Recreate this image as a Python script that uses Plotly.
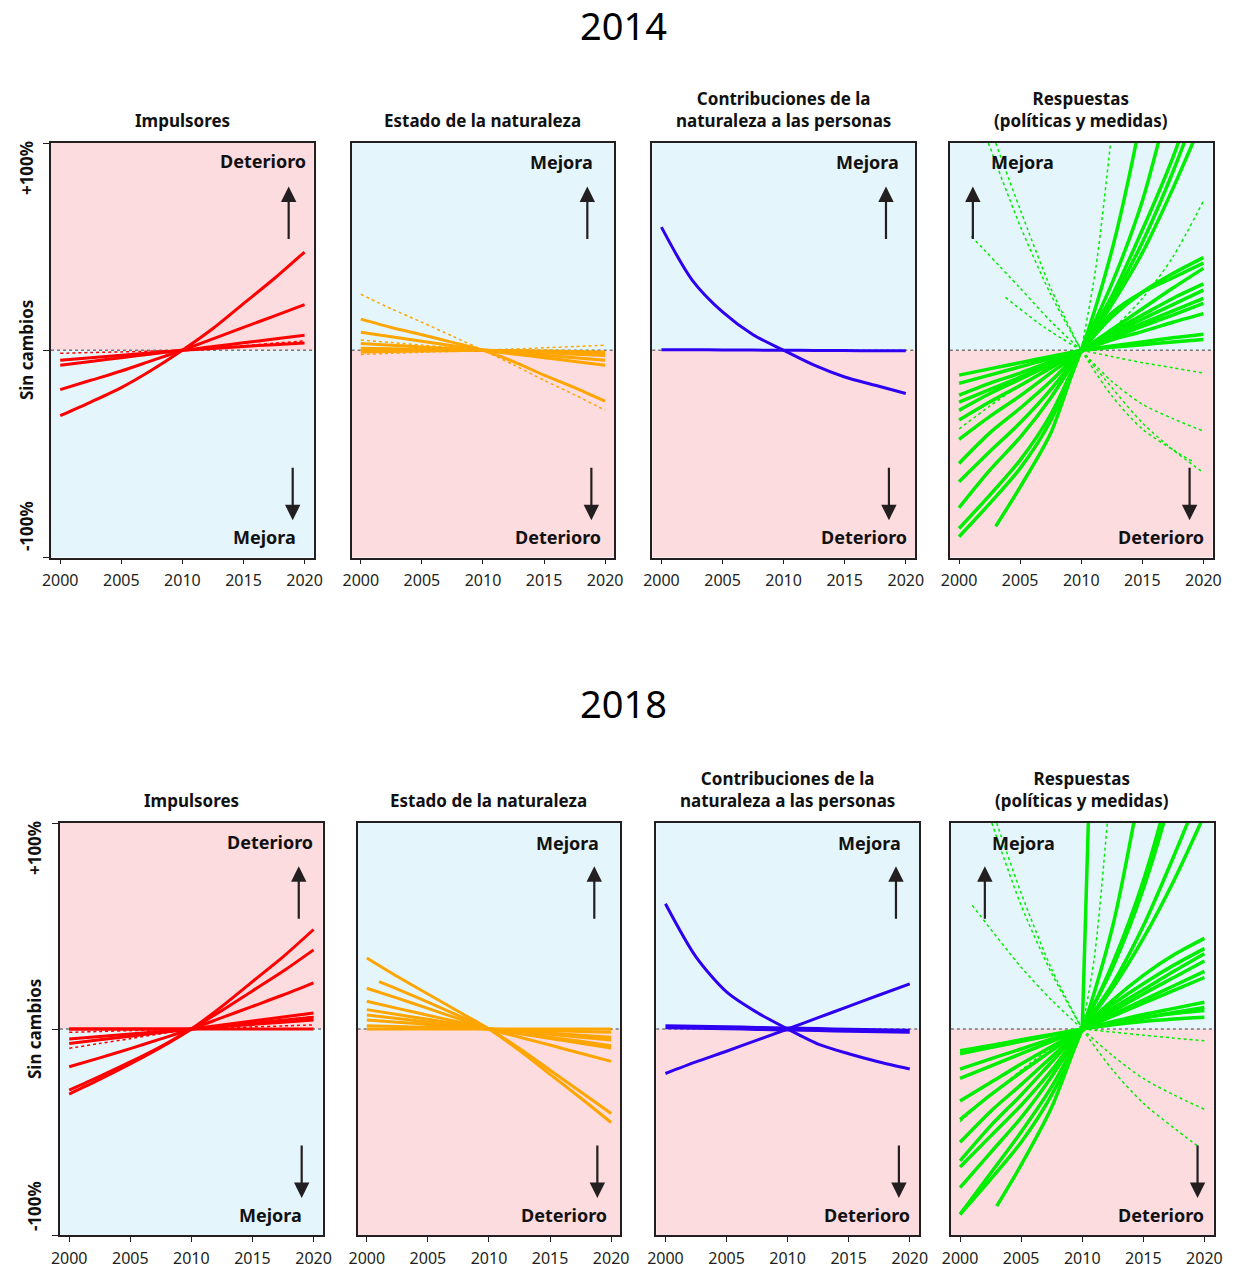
import plotly.graph_objects as go

W, H = 1236, 1269
# the rendered page is drawn with a small horizontal shrink/offset; compensate
SX, OX = 0.9867, 7.9
FONT = "Noto Sans"
INK = "#231F20"

# ---------------- data ----------------
YEARS = [2000, 2002.5, 2005, 2007.5, 2010, 2012.5, 2015, 2017.5, 2020]
X_TICKS = [2000, 2005, 2010, 2015, 2020]
X_TICK_LABELS = ["2000", "2005", "2010", "2015", "2020"]
YEAR_TITLES = ["2014", "2018"]
PANEL_TITLES = ["Impulsores", "Estado de la naturaleza",
                "Contribuciones de la<br>naturaleza a las personas",
                "Respuestas<br>(políticas y medidas)"]
Y_LABELS = ["+100%", "Sin cambios", "-100%"]
N = None

# 2014 - Impulsores
IMP14_SOLID = [
    [-31.6, -25, -18, -9.5, 0, 10.5, 22.5, 34.5, 47.4],
    [-19, -14.5, -10, -5, 0, 5.5, 11, 16.5, 22],
    [-4.8, -3.6, -2.4, -1.2, 0, 1.8, 3.6, 5.4, 7.2],
    [-7.2, -5.4, -3.6, -1.8, 0, 0.9, 1.8, 2.7, 3.5],
]
IMP14_DOT = [
    [-1.5, -1.1, -0.8, -0.4, 0, 1.1, 2.2, 3.4, 4.5],
]
# 2014 - Estado de la naturaleza
EST14_SOLID = [
    [15, 11, 7.5, 3.8, 0, -5.5, -12, -18, -24.6],
    [8.7, 6.5, 4.3, 2.2, 0, -1.8, -3.6, -5.4, -7.2],
    [3.2, 2.4, 1.6, 0.8, 0, -1.2, -2.4, -3.6, -4.8],
    [1.0, 0.75, 0.5, 0.25, 0, -0.6, -1.2, -1.9, -2.5],
    [0.3, 0.2, 0.1, 0.05, 0, -0.4, -0.8, -1.2, -1.6],
    [-0.8, -0.6, -0.4, -0.2, 0, -0.2, -0.4, -0.6, -0.8],
]
EST14_DOT = [
    [27, 20, 13.5, 6.8, 0, -7, -14.5, -21.5, -29],
    [5, 3.7, 2.5, 1.2, 0, -0.5, -1, -1.5, -2],
    [-2, -1.5, -1, -0.5, 0, 0.6, 1.2, 1.8, 2.4],
]
# 2014 - Contribuciones
CON14_SOLID = [
    [59.4, 34, 18.5, 7.5, 0, -7.2, -12.9, -16.9, -20.9],
    [0.3, 0.22, 0.15, 0.07, 0, -0.07, -0.15, -0.22, -0.3],
]
# 2014 - Respuestas
RES14_SOLID = [
    [-90, -74, -57, -34, 0, 48, 115, 200, 300],
    [-86, -70, -53, -31, 0, 32, 72, 128, 190],
    [-76, -58, -42, -23, 0, 24, 52, 86, 125],
    [-63.5, -49, -35, -19, 0, 22, 47, 78, 112],
    [-54.6, -40, -28, -15, 0, 16, 28, 37, 44.7],
    [-43, -32, -22, -11, 0, 18, 28, 35, 42],
    [-33.7, -25, -17, -8.5, 0, 10, 20, 30, 39.5],
    [-29, -21, -14, -7, 0, 9, 17, 25, 32],
    [-25, -19, -13, -6.5, 0, 8, 15, 22, 29],
    [-21.7, -16, -11, -5.5, 0, 7, 13, 19, 25],
    [-16, -12, -8, -4, 0, 6, 11.5, 17, 22.6],
    [-12, -9, -6, -3, 0, 5, 9, 13.5, 17.7],
    [N, N, N, N, 0, 2, 4, 6, 7.7],
    [N, N, N, N, 0, 1.4, 2.7, 4, 5.2],
]
RES14_LATE_YEARS = [2003, 2005, 2007.5, 2010, 2012.5, 2015, 2017.5, 2020]
RES14_LATE_VALUES = [-85, -66, -40, 0, 26, 58, 93, 135]
RES14_DOT_YEARS = [
    [2002.4, 2005, 2007.5, 2010],
    [2003, 2005, 2007.5, 2010],
    [2001, 2005, 2007.5, 2010],
    [2003.8, 2007, 2010],
    [2010, 2011.2, 2012.4],
    [2010, 2012.5, 2015, 2017.5, 2020],
    [2010, 2012.5, 2015, 2017.5, 2020],
    [2010, 2012.5, 2015, 2017.5, 2020],
    [2010, 2012.5, 2015, 2017.5, 2019.2],
    [2010, 2012.5, 2015, 2017.5, 2020],
    [2000, 2002.5, 2005, 2007.5, 2010],
]
RES14_DOT_VALUES = [
    [100, 60, 27, 0],
    [100, 68, 30, 0],
    [55, 30, 14, 0],
    [25.5, 11, 0],
    [0, 40, 100],
    [0, 10, 25, 45, 72],
    [0, -3, -6, -8.5, -11],
    [0, -15, -26, -33, -39],
    [0, -22, -38, -48, -54],
    [0, -18, -35, -48, -59],
    [-38, -27, -17, -8, 0],
]

# 2018 - Impulsores
IMP18_SOLID = [
    [-31.6, -24.5, -17, -9, 0, 11, 23, 35, 48.3],
    [-29.7, -23, -16, -8.5, 0, 9, 18.5, 28, 38.4],
    [-18.3, -14, -9.5, -4.8, 0, 5.5, 11, 16.5, 22.4],
    [-7, -5.2, -3.5, -1.7, 0, 2, 3.9, 5.8, 7.8],
    [-4.9, -3.7, -2.4, -1.2, 0, 1.4, 2.8, 4.2, 5.7],
    [0, 0, 0, 0, 0, 1.1, 2.2, 3.3, 4.4],
    [0, 0, 0, 0, 0, 0, 0, 0, 0],
]
IMP18_DOT = [
    [-1.6, -1.2, -0.8, -0.4, 0, 0.5, 1, 1.5, 2],
    [-9.4, -7, -4.7, -2.3, 0, 1.5, 3, 4.5, 6],
]
# 2018 - Estado de la naturaleza
EST18_SOLID = [
    [34.5, 25.5, 17, 8.5, 0, -10.5, -22, -33.5, -45.4],
    [19.8, 15, 10, 5, 0, -4, -7.8, -11.8, -15.7],
    [13.5, 10, 6.7, 3.4, 0, -2.3, -4.6, -6.9, -9.2],
    [9.4, 7, 4.7, 2.3, 0, -2, -4, -6, -8.1],
    [6.8, 5.1, 3.4, 1.7, 0, -1.3, -2.6, -4, -5.3],
    [4.4, 3.3, 2.2, 1.1, 0, -1, -2, -3, -4],
    [1.6, 1.2, 0.8, 0.4, 0, -0.4, -0.8, -1.2, -1.6],
    [0, 0, 0, 0, 0, 0, 0, 0, 0],
]
EST18_LATE_YEARS = [2001, 2002.5, 2005, 2007.5, 2010, 2012.5, 2015, 2017.5, 2020]
EST18_LATE_VALUES = [23, 19.4, 13, 6.5, 0, -9.5, -20, -30.5, -41]
# 2018 - Contribuciones
CON18_SOLID = [
    [60.8, 35, 18, 8, 0, -7.3, -12, -16, -19.4],
    [-21.6, -16, -10.8, -5.4, 0, 5.5, 11, 16.5, 21.9],
]
CON18_THICK = [1.1, 0.8, 0.55, 0.3, 0, -0.3, -0.55, -0.8, -1.1]
# 2018 - Respuestas
RES18_SOLID = [
    [-90, -73, -55, -32, 0, 50, 125, 210, 300],
    [-90, -70, -50, -28, 0, 32, 72, 125, 190],
    [-77, -60, -43, -23, 0, 22, 50, 84, 120],
    [-67, -52, -37, -20, 0, 20, 44, 72, 104],
    [-64, -47, -32, -16, 0, 14, 26, 36, 44],
    [-55, -40, -27, -13.5, 0, 12, 22, 31, 39],
    [-44, -32, -21, -10.5, 0, 10, 19, 28, 36.5],
    [-35, -26, -17, -8.5, 0, 8.5, 17, 25, 33],
    [-24, -18, -12, -6, 0, 7, 14, 21, 28],
    [-19.5, -14.5, -9.7, -4.8, 0, 6.2, 12.5, 18.7, 25],
    [-12, -9, -6, -3, 0, 3.5, 7, 10, 13],
    [-10.5, -8, -5.2, -2.6, 0, 2.7, 5.3, 8, 10.5],
    [N, N, N, N, 0, 3, 5.5, 7.5, 9],
    [N, N, N, N, 0, 2, 3.6, 4.8, 5.7],
]
RES18_LATE_YEARS = [2003, 2005, 2007.5, 2010, 2012.5, 2015, 2017.5, 2020]
RES18_LATE_VALUES = [-86, -66, -38, 0, 30, 68, 118, 180]
RES18_VERT_YEARS = [2010, 2010.5]
RES18_VERT_VALUES = [0, 100]
RES18_DOT_YEARS = [
    [2002.6, 2005, 2007.5, 2010],
    [2003, 2005, 2007.5, 2010],
    [2001, 2005, 2007.5, 2010],
    [2010, 2011, 2012.05],
    [2010, 2012.5, 2015, 2017.5, 2020],
    [2010, 2012.5, 2015, 2017.5, 2020],
    [2010, 2012.5, 2015, 2017.5, 2019.5],
    [2000, 2002.5, 2005, 2007.5, 2010],
]
RES18_DOT_VALUES = [
    [100, 60, 27, 0],
    [100, 66, 29, 0],
    [60, 30, 14, 0],
    [0, 35, 100],
    [0, -1.5, -3, -4.4, -5.7],
    [0, -13, -24, -32, -39],
    [0, -20, -36, -48, -57],
    [-45, -32, -20, -9, 0],
]

# ---------------- layout geometry (target pixels) ----------------
ROW_TOP = [143, 823]
ROW_BOTTOM = [557.5, 1235]
COL_LEFT = [[50, 351, 652, 950], [59, 357, 656, 951]]
PANEL_W = 263
XR = [1999.25, 2020.75]

RED, ORANGE, BLUE, GREEN = "#FF0000", "#FFA500", "#2E00F2", "#00EE00"
PINK, SKY = "#FDDCDF", "#E5F5FC"


def pxx(px):
    return (px - OX) / SX / W


def pxy(py):
    return 1 - py / H


fig = go.Figure()


def ax_id(k):
    return "" if k == 0 else str(k + 1)


def add_line(k, years, values, color, width=3, dash="solid"):
    fig.add_trace(go.Scatter(
        x=years, y=values, mode="lines",
        line=dict(color=color, width=width, dash=dash, shape="spline", smoothing=0.8),
        xaxis="x" + ax_id(k), yaxis="y" + ax_id(k),
        showlegend=False, hoverinfo="skip", connectgaps=False))


# traces
for v in IMP14_SOLID:
    add_line(0, YEARS, v, RED, 3)
for v in IMP14_DOT:
    add_line(0, YEARS, v, RED, 1.5, "dot")
for v in EST14_DOT:
    add_line(1, YEARS, v, ORANGE, 1.5, "dot")
for v in EST14_SOLID:
    add_line(1, YEARS, v, ORANGE, 3)
for v in CON14_SOLID:
    add_line(2, YEARS, v, BLUE, 3)
for yy, v in zip(RES14_DOT_YEARS, RES14_DOT_VALUES):
    add_line(3, yy, v, GREEN, 1.5, "dot")
for v in RES14_SOLID:
    add_line(3, YEARS, v, GREEN, 3.5)
add_line(3, RES14_LATE_YEARS, RES14_LATE_VALUES, GREEN, 3.5)

for v in IMP18_DOT:
    add_line(4, YEARS, v, RED, 1.5, "dot")
for v in IMP18_SOLID:
    add_line(4, YEARS, v, RED, 3)
for v in EST18_SOLID:
    add_line(5, YEARS, v, ORANGE, 3)
add_line(5, EST18_LATE_YEARS, EST18_LATE_VALUES, ORANGE, 3)
for v in CON18_SOLID:
    add_line(6, YEARS, v, BLUE, 3)
add_line(6, YEARS, CON18_THICK, BLUE, 5)
for yy, v in zip(RES18_DOT_YEARS, RES18_DOT_VALUES):
    add_line(7, yy, v, GREEN, 1.5, "dot")
for v in RES18_SOLID:
    add_line(7, YEARS, v, GREEN, 3.5)
add_line(7, RES18_LATE_YEARS, RES18_LATE_VALUES, GREEN, 3.5)
add_line(7, RES18_VERT_YEARS, RES18_VERT_VALUES, GREEN, 3.5)

shapes = []
annotations = []
layout_axes = {}

# label / arrow positions per panel (data coords)
TOP_TXT = [[(2016.58, 91.2), (2016.42, 90.7), (2016.83, 90.7), (2005.22, 90.7)],
           [(2016.42, 90.8), (2016.42, 90.3), (2016.74, 90.3), (2005.22, 90.3)]]
BOT_TXT = [[(2016.74, -90.3), (2016.17, -90.3), (2016.58, -90.3), (2016.5, -90.3)],
           [(2016.5, -90.3), (2016.17, -90.3), (2016.5, -90.3), (2016.42, -90.3)]]
UP_X = [[2018.7, 2018.54, 2018.38, 2001.13], [2018.79, 2018.62, 2018.87, 2002.03]]
DN_X = [[2019.03, 2018.87, 2018.62, 2018.87], [2019.03, 2018.87, 2019.11, 2019.44]]

for r in range(2):
    for c in range(4):
        k = r * 4 + c
        aid = ax_id(k)
        L = COL_LEFT[r][c]
        xd = [pxx(L), pxx(L + PANEL_W)]
        yd = [pxy(ROW_BOTTOM[r]), pxy(ROW_TOP[r])]
        layout_axes["xaxis" + aid] = dict(
            domain=xd, range=XR, anchor="y" + aid, showgrid=False, zeroline=False,
            showline=True, mirror=True, linecolor=INK, linewidth=1.5,
            ticks="outside", ticklen=5, tickwidth=1.2, tickcolor=INK,
            tickvals=X_TICKS, ticktext=X_TICK_LABELS, ticklabelstandoff=3,
            tickfont=dict(family=FONT, size=16, color=INK), fixedrange=True)
        layout_axes["yaxis" + aid] = dict(
            domain=yd, range=[-100, 100], anchor="x" + aid, showgrid=False, zeroline=False,
            showline=True, mirror=True, linecolor=INK, linewidth=1.5,
            ticks="outside" if c == 0 else "", ticklen=6, tickwidth=1.2, tickcolor=INK,
            tickvals=[-100, 0, 100], showticklabels=False, fixedrange=True)
        top_col = PINK if c == 0 else SKY
        bot_col = SKY if c == 0 else PINK
        xref = "x" + aid + " domain"
        yref = "y" + aid
        shapes.append(dict(type="rect", xref=xref, yref=yref, x0=0, x1=1, y0=0, y1=100,
                           fillcolor=top_col, line=dict(width=0), layer="below"))
        shapes.append(dict(type="rect", xref=xref, yref=yref, x0=0, x1=1, y0=-100, y1=0,
                           fillcolor=bot_col, line=dict(width=0), layer="below"))
        shapes.append(dict(type="line", xref=xref, yref=yref, x0=0, x1=1, y0=0, y1=0,
                           line=dict(color="#777777", width=1.5, dash="dot"), layer="below"))

        top_word = "Deterioro" if c == 0 else "Mejora"
        bot_word = "Mejora" if c == 0 else "Deterioro"
        tx, ty = TOP_TXT[r][c]
        bx, by = BOT_TXT[r][c]
        annotations.append(dict(x=tx, y=ty, xref="x" + aid, yref=yref, text="<b>%s</b>" % top_word,
                                showarrow=False, font=dict(family=FONT, size=18, color="#111111")))
        annotations.append(dict(x=bx, y=by, xref="x" + aid, yref=yref, text="<b>%s</b>" % bot_word,
                                showarrow=False, font=dict(family=FONT, size=18, color="#111111")))
        annotations.append(dict(x=UP_X[r][c], y=79, xref="x" + aid, yref=yref, text="",
                                showarrow=True, ax=0, ay=54, arrowhead=2, arrowsize=1.4,
                                arrowwidth=2.2, arrowcolor=INK, standoff=0, startstandoff=0))
        annotations.append(dict(x=DN_X[r][c], y=-82, xref="x" + aid, yref=yref, text="",
                                showarrow=True, ax=0, ay=-54, arrowhead=2, arrowsize=1.4,
                                arrowwidth=2.2, arrowcolor=INK, standoff=0, startstandoff=0))
        # panel title
        annotations.append(dict(x=pxx(L + PANEL_W / 2), y=pxy(ROW_TOP[r] - 9), xref="paper", yref="paper",
                                text="<b>%s</b>" % PANEL_TITLES[c], showarrow=False,
                                xanchor="center", yanchor="bottom",
                                font=dict(family=FONT, size=17, color="#111111")))

# year titles
for r, yc in enumerate([25, 703]):
    annotations.append(dict(x=pxx(623), y=pxy(yc), xref="paper", yref="paper", text=YEAR_TITLES[r],
                            showarrow=False, xanchor="center", yanchor="middle",
                            font=dict(family=FONT, size=38, color="#000000")))

# y labels (first panel of each row)
YLAB_X = [26, 33]
YLAB_Y = [[168, 350, 526], [848, 1029, 1206]]
for r in range(2):
    for i, t in enumerate(Y_LABELS):
        annotations.append(dict(x=pxx(YLAB_X[r]), y=pxy(YLAB_Y[r][i]), xref="paper", yref="paper",
                                text="<b>%s</b>" % t, textangle=-90, showarrow=False,
                                xanchor="center", yanchor="middle",
                                font=dict(family=FONT, size=17, color="#111111")))

fig.update_layout(
    width=W, height=H, margin=dict(l=0, r=0, t=0, b=0),
    paper_bgcolor="white", plot_bgcolor="white",
    shapes=shapes, annotations=annotations, showlegend=False,
    font=dict(family=FONT, color=INK),
    **layout_axes)

fig.write_html(
    "out.html",
    config={"displayModeBar": False},
    post_script="document.body.style.margin='0';document.documentElement.style.overflow='hidden';document.body.style.overflow='hidden';")
